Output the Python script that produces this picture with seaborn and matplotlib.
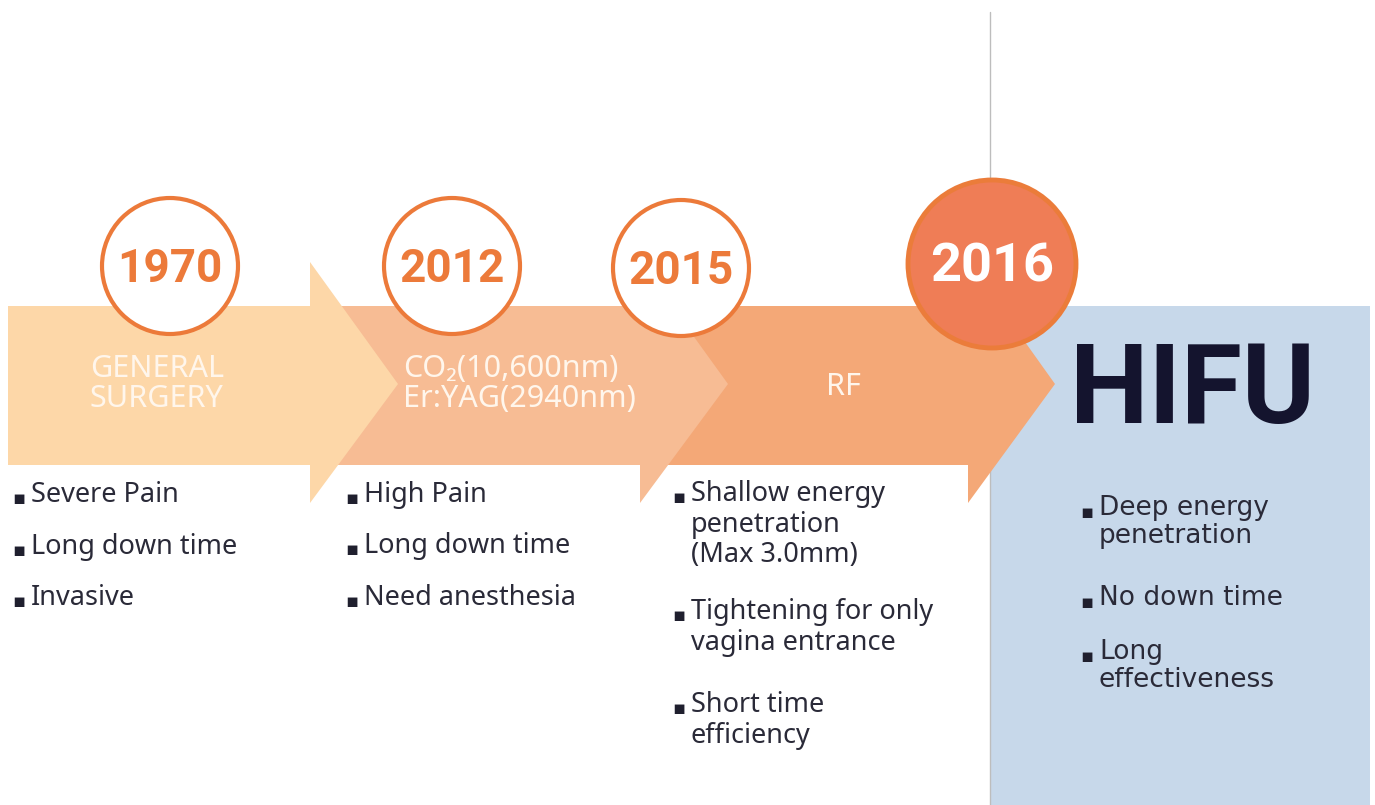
import matplotlib
matplotlib.use("Agg")
import matplotlib.pyplot as plt
from matplotlib.patches import Polygon, Circle, Rectangle
import seaborn as sns

# timeline content
years = ["1970", "2012", "2015", "2016"]
methods = ["GENERAL\nSURGERY", "CO\u2082(10,600nm)\nEr:YAG(2940nm)", "RF", "HIFU"]
notes = [
    ["Severe Pain", "Long down time", "Invasive"],
    ["High Pain", "Long down time", "Need anesthesia"],
    ["Shallow energy\npenetration\n(Max 3.0mm)", "Tightening for only\nvagina entrance", "Short time\nefficiency"],
    ["Deep energy\npenetration", "No down time", "Long\neffectiveness"],
]

# layout (pixels)
arrow_x0 = [8, 330, 620]
arrow_xb = [310, 640, 968]
arrow_xt = [398, 728, 1055]
arrow_colors = ["#FDD7A8", "#F7BC94", "#F4A877"]
circle_xy = [(170, 266), (452, 266), (681, 268), (992, 264)]
method_xy = [(90, 384, "left"), (403, 384, "left"), (843, 387, "center")]
note_x = [12, 345, 672, 1080]
note_y = [[498, 550, 601], [498, 549, 601], [497, 615, 708], [512, 602, 656]]

sns.set_style("white")
plt.rcParams["font.family"] = ["Noto Sans", "DejaVu Sans"]

fig = plt.figure(figsize=(13.75, 8.05), dpi=100)
ax = fig.add_axes([0, 0, 1, 1])
ax.set_xlim(0, 1375)
ax.set_ylim(805, 0)
ax.axis("off")

# right panel
ax.add_patch(Rectangle((990, 306), 380, 500, facecolor="#C7D8EA", edgecolor="none", zorder=1))
ax.plot([990, 990], [12, 805], color="#BDBDBD", lw=1, zorder=1.5)

# arrows, back to front
for i in [2, 1, 0]:
    x0, xb, xt = arrow_x0[i], arrow_xb[i], arrow_xt[i]
    pts = [(x0, 306), (xb, 306), (xb, 262), (xt, 384), (xb, 503), (xb, 465), (x0, 465)]
    ax.add_patch(Polygon(pts, closed=True, facecolor=arrow_colors[i], edgecolor="none", zorder=2 + (2 - i)))

year_font = ["Roboto", "DejaVu Sans"]

# year circles
for i, (yr, (cx, cy)) in enumerate(zip(years, circle_xy)):
    if i < 3:
        ax.add_patch(Circle((cx, cy), 68, facecolor="white", edgecolor="#EC7A3A", lw=3, zorder=6))
        ax.text(cx, cy + 3, yr, ha="center", va="center", fontsize=33, fontweight="bold",
                color="#EC7A3A", family=year_font, zorder=7)
    else:
        ax.add_patch(Circle((cx, cy), 84, facecolor="#EF7D56", edgecolor="#EB7C3A", lw=3.5, zorder=6))
        ax.text(cx, cy + 3, yr, ha="center", va="center", fontsize=39, fontweight="bold",
                color="white", family=year_font, zorder=7)

# method labels on arrows
for m, (mx, my, ha) in zip(methods[:3], method_xy):
    ax.text(mx, my, m, ha=ha, va="center", fontsize=22, fontweight="light", color="#FFF6EC",
            linespacing=1.0, zorder=8)

ax.text(1193, 392, methods[3], ha="center", va="center", fontsize=80, fontweight="bold",
        color="#14142E", family=["Roboto", "DejaVu Sans"], zorder=8)

# bullet notes
for c, items in enumerate(notes):
    fam = ["DejaVu Sans"] if c == 3 else ["Noto Sans", "DejaVu Sans"]
    fs = 19 if c == 3 else 19.5
    ls = 1.12 if c >= 2 else 1.05
    for item, y in zip(items, note_y[c]):
        ax.text(note_x[c], y, "\u25aa", ha="left", va="center", fontsize=14,
                color="#1F1F2E", family="DejaVu Sans", zorder=8)
        ax.text(note_x[c] + 19, y - 17, item, ha="left", va="top", fontsize=fs,
                color="#2A2A38", linespacing=ls, family=fam, zorder=8)

fig.savefig("out.png", dpi=100)
